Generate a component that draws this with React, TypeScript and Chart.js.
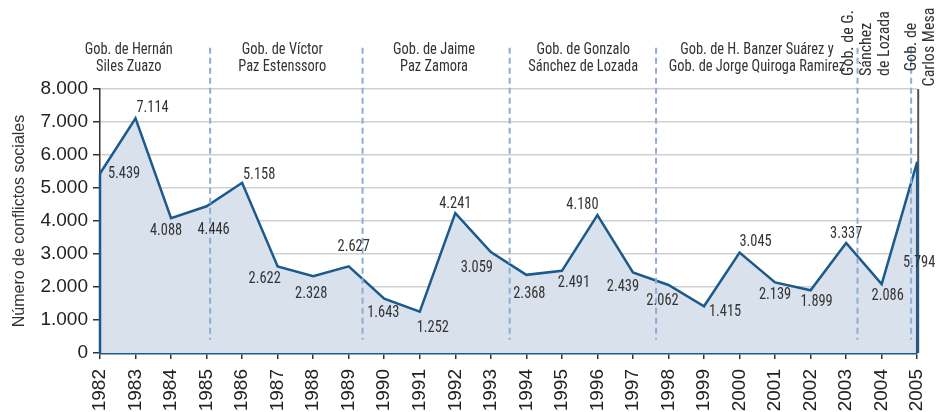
import React, { useEffect, useRef } from "react";
import { Chart, registerables } from "chart.js";

Chart.register(...registerables);

const years = ["1982","1983","1984","1985","1986","1987","1988","1989","1990","1991","1992","1993","1994","1995","1996","1997","1998","1999","2000","2001","2002","2003","2004","2005"];
const conflicts = [5439,7114,4088,4446,5158,2622,2328,2627,1643,1252,4241,3059,2368,2491,4180,2439,2062,1415,3045,2139,1899,3337,2086,5794];
const yTicks = [0,1000,2000,3000,4000,5000,6000,7000,8000];

// label offsets (px) relative to each point
const labelDx = [24,17,-5,7,17,-13,-2,5,-1,13,0,-14,3,12,-15,-10,-6,21,16,0,6,0,6,2];
const labelDy = [0,-10,13,24,-8,13,18,-19,14,16,-9,16,19,12,-10,14,16,6,-11,13,12,-9,12,101];

// government boundaries, as fractional index positions on the year axis
const boundaries = [3.1, 7.39, 11.53, 15.65, 21.32, 22.83];

const govLabels = [
  { pos: 0.81, lines: ["Gob. de Hernán", "Siles Zuazo"] },
  { pos: 5.13, lines: ["Gob. de Víctor", "Paz Estenssoro"] },
  { pos: 9.4, lines: ["Gob. de Jaime", "Paz Zamora"] },
  { pos: 13.6, lines: ["Gob. de Gonzalo", "Sánchez de Lozada"] },
  { pos: 18.49, lines: ["Gob. de H. Banzer Suárez y", "Gob. de Jorge Quiroga Ramirez"] },
];
const govRotA = { pos: 21.59, lines: ["Gob. de G.", "Sánchez", "de Lozada"] };
const govRotB = { pos: 23.11, lines: ["Gob. de", "Carlos Mesa"] };

const fmt = (v: number) => Math.round(v).toString().replace(/\B(?=(\d{3})+(?!\d))/g, ".");

const LINE = "#1b5a8b";
const FILL = "#d9e1ed";
const NARROW = '"Roboto Condensed", "DejaVu Sans Condensed", sans-serif';
const REG = '"Liberation Sans", Arial, sans-serif';
const SX = 0.9; // horizontal squeeze for condensed annotation text

const overlay = {
  id: "overlay",
  afterDatasetsDraw(chart: any) {
    const { ctx, chartArea, scales } = chart;
    const xs = scales.x, ys = scales.y;
    const meta = chart.getDatasetMeta(0);
    ctx.save();
    // right border
    ctx.strokeStyle = "#555";
    ctx.lineWidth = 2;
    ctx.beginPath();
    ctx.moveTo(chartArea.right + 1, chartArea.top);
    ctx.lineTo(chartArea.right + 1, chartArea.bottom);
    ctx.stroke();
    // area side edges
    const p0 = meta.data[0], pn = meta.data[meta.data.length - 1];
    ctx.strokeStyle = LINE;
    ctx.lineWidth = 2.5;
    ctx.beginPath();
    ctx.moveTo(p0.x, p0.y);
    ctx.lineTo(p0.x, ys.getPixelForValue(0));
    ctx.moveTo(pn.x, pn.y);
    ctx.lineTo(pn.x, ys.getPixelForValue(0));
    ctx.stroke();
    // dashed boundaries
    ctx.strokeStyle = "#8eacd3";
    ctx.lineWidth = 2;
    ctx.setLineDash([6, 4]);
    boundaries.forEach((b) => {
      const x = xs.getPixelForValue(b);
      ctx.beginPath();
      ctx.moveTo(x, ys.getPixelForValue(9250));
      ctx.lineTo(x, ys.getPixelForValue(400));
      ctx.stroke();
    });
    ctx.setLineDash([]);
    const text = (s: string, x: number, y: number, size: number, align: CanvasTextAlign = "center", rot = 0) => {
      ctx.save();
      ctx.translate(x, y);
      if (rot) ctx.rotate(rot);
      ctx.scale(SX, 1);
      ctx.font = `${size}px ${NARROW}`;
      ctx.textAlign = align;
      ctx.textBaseline = "middle";
      ctx.fillText(s, 0, 0);
      ctx.restore();
    };
    // data labels
    ctx.fillStyle = "#333";
    meta.data.forEach((pt: any, i: number) => {
      text(fmt(conflicts[i]), pt.x + labelDx[i], pt.y + labelDy[i], 16);
    });
    // government labels
    govLabels.forEach((g) => {
      const x = xs.getPixelForValue(g.pos);
      g.lines.forEach((l, k) => text(l, x, 50 + k * 17, 16));
    });
    const drawRot = (g: any, align: CanvasTextAlign, y: number) => {
      const xc = xs.getPixelForValue(g.pos);
      g.lines.forEach((l: string, k: number) => {
        const x = xc + (k - (g.lines.length - 1) / 2) * 18;
        ctx.save();
        ctx.translate(x, y);
        ctx.rotate(-Math.PI / 2);
        ctx.font = `16px ${NARROW}`;
        ctx.textAlign = align;
        ctx.textBaseline = "middle";
        ctx.fillText(l, 0, 0);
        ctx.restore();
      });
    };
    drawRot(govRotA, "left", 76);
    drawRot(govRotB, "center", 47);
    ctx.restore();
  },
};

export default function App() {
  const ref = useRef<HTMLCanvasElement>(null);
  useEffect(() => {
    if (!ref.current) return;
    const chart = new Chart(ref.current, {
      type: "line",
      data: {
        labels: years,
        datasets: [
          {
            data: conflicts,
            borderColor: LINE,
            borderWidth: 2.5,
            backgroundColor: FILL,
            fill: "origin",
            pointRadius: 0,
            tension: 0,
          },
        ],
      },
      options: {
        animation: false,
        responsive: false,
        maintainAspectRatio: false,
        layout: { padding: { top: 89, right: 29, left: 0, bottom: 0 } },
        plugins: { legend: { display: false }, tooltip: { enabled: false } },
        scales: {
          x: {
            offset: false,
            grid: { drawOnChartArea: false, drawTicks: true, tickLength: 6, tickColor: "#333", lineWidth: 1.5 },
            border: { color: LINE, width: 2.5 },
            ticks: { font: { size: 19, family: REG }, color: "#222", maxRotation: 90, minRotation: 90, padding: 10, autoSkip: false },
            afterFit: (s: any) => { s.height = 430 - 353; },
          },
          y: {
            min: 0,
            max: 8000,
            afterBuildTicks: (s: any) => { s.ticks = yTicks.map((v) => ({ value: v })); },
            grid: { color: "#d0d0d0", lineWidth: 1.5, tickColor: "#333", tickLength: 7 },
            border: { color: "#333", width: 1.5 },
            ticks: { font: { size: 19, family: REG }, color: "#222", padding: 5, callback: (v: any) => fmt(Number(v)) },
            title: { display: true, text: "Número de conflictos sociales", font: { size: 16, family: REG }, color: "#333", padding: { top: 10, bottom: 0 } },
            afterFit: (s: any) => { s.width = 100; },
          },
        },
      },
      plugins: [overlay],
    });
    return () => chart.destroy();
  }, []);
  return (
    <div style={{ position: "absolute", left: 0, top: 0, width: 950, height: 430, background: "#fff" }}>
      <canvas ref={ref} width={950} height={430} style={{ width: 950, height: 430 }} />
    </div>
  );
}
